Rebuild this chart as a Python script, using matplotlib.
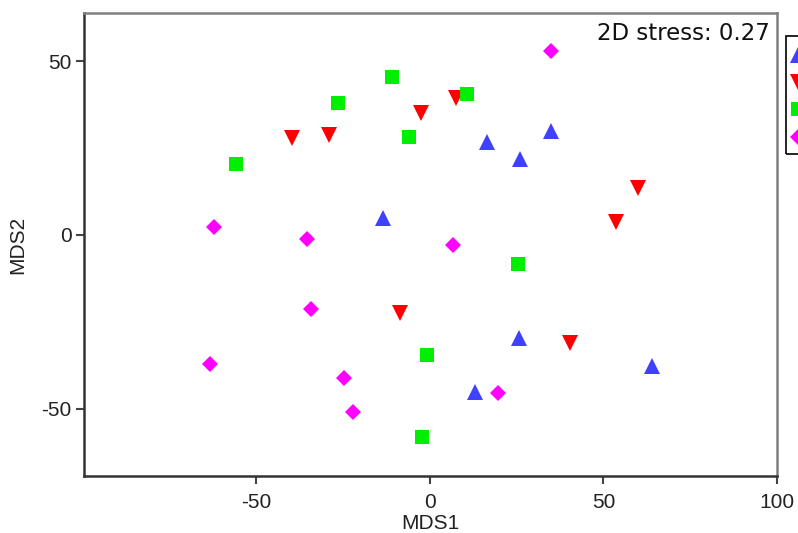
import numpy as np
import matplotlib
matplotlib.use('Agg')
import matplotlib.pyplot as plt
from matplotlib.patches import Rectangle

# Coordenadas NMDS de cada grupo
grupo1_x = [-13.5, 16.4, 25.9, 34.9, 25.6, 13.0, 64.0]
grupo1_y = [4.9, 26.8, 21.9, 29.9, -29.6, -45.2, -37.7]

grupo2_x = [-39.8, -29.0, -2.7, 7.5, 60.0, 53.6, -8.6, 40.3]
grupo2_y = [28.0, 28.7, 35.0, 39.3, 13.4, 3.8, -22.5, -31.0]

grupo3_x = [-56.0, -26.4, -10.9, -6.1, 10.7, 25.5, -1.0, -2.4]
grupo3_y = [20.4, 38.1, 45.4, 28.1, 40.6, -8.3, -34.5, -58.2]

grupo4_x = [-62.3, -35.4, 35.0, 6.5, -34.4, -63.4, -24.7, -22.1, 19.7]
grupo4_y = [2.4, -1.2, 53.0, -2.9, -21.3, -37.1, -41.3, -51.0, -45.6]

grupos = ['A', 'B', 'C', 'D']
stress = 0.27

# Estilo de cada grupo: marcador, color y tamaño
estilos = [('^', '#4040ff', 12),
           ('v', '#ff0000', 12),
           ('s', '#00ee00', 10.5),
           ('D', '#ff00ff', 8)]

plt.rcParams['font.family'] = ['Liberation Sans', 'DejaVu Sans']
plt.rcParams['axes.unicode_minus'] = False

fig = plt.figure(figsize=(7.98, 5.33), dpi=100)
ax = fig.add_axes([84 / 798, 1 - 476 / 533, 693 / 798, 463 / 533])

datos = [(grupo1_x, grupo1_y), (grupo2_x, grupo2_y),
         (grupo3_x, grupo3_y), (grupo4_x, grupo4_y)]

for (xs, ys), nombre, (marker, color, size) in zip(datos, grupos, estilos):
    ax.plot(xs, ys, linestyle='none', marker=marker, color=color,
            markersize=size, markeredgewidth=0, label=nombre)

# Límites y ticks de los ejes
ax.set_xlim(-99.7, 100)
ax.set_ylim(-69.4, 63.9)
ax.set_xticks([-50, 0, 50, 100])
ax.set_yticks([-50, 0, 50])
ax.tick_params(labelsize=15, length=6, width=1.5, color='#444444',
               labelcolor='#222222')
ax.tick_params(axis='x', pad=6)
ax.tick_params(axis='y', pad=3)

for lado in ['left', 'bottom', 'top', 'right']:
    ax.spines[lado].set_linewidth(1.8)
    ax.spines[lado].set_color('#333333')
for lado in ['top', 'right']:
    ax.spines[lado].set_color('#808080')

ax.set_xlabel('MDS1', fontsize=15, color='#222222', labelpad=2)
ax.set_ylabel('MDS2', fontsize=15, color='#222222', labelpad=10)

# Valor del estrés en la esquina superior derecha
ax.text(0.99, 0.981, '2D stress: {:.2f}'.format(stress),
        transform=ax.transAxes, ha='right', va='top',
        fontsize=16.5, family='DejaVu Sans', color='#111111')

# Leyenda fuera del área del gráfico, con su marco aparte
marco = Rectangle((786 / 798, 1 - 154 / 533), 40 / 798, 118 / 533,
                  transform=fig.transFigure, fill=False,
                  edgecolor='black', linewidth=1.2)
fig.patches.append(marco)

fig.legend(loc='upper left', bbox_to_anchor=(786 / 798, 1 - 47 / 533),
           fontsize=15, frameon=False, borderpad=0, borderaxespad=0,
           handlelength=1.15, handletextpad=0.4,
           labelspacing=0.4, numpoints=1)

fig.savefig('out.png', dpi=100)
